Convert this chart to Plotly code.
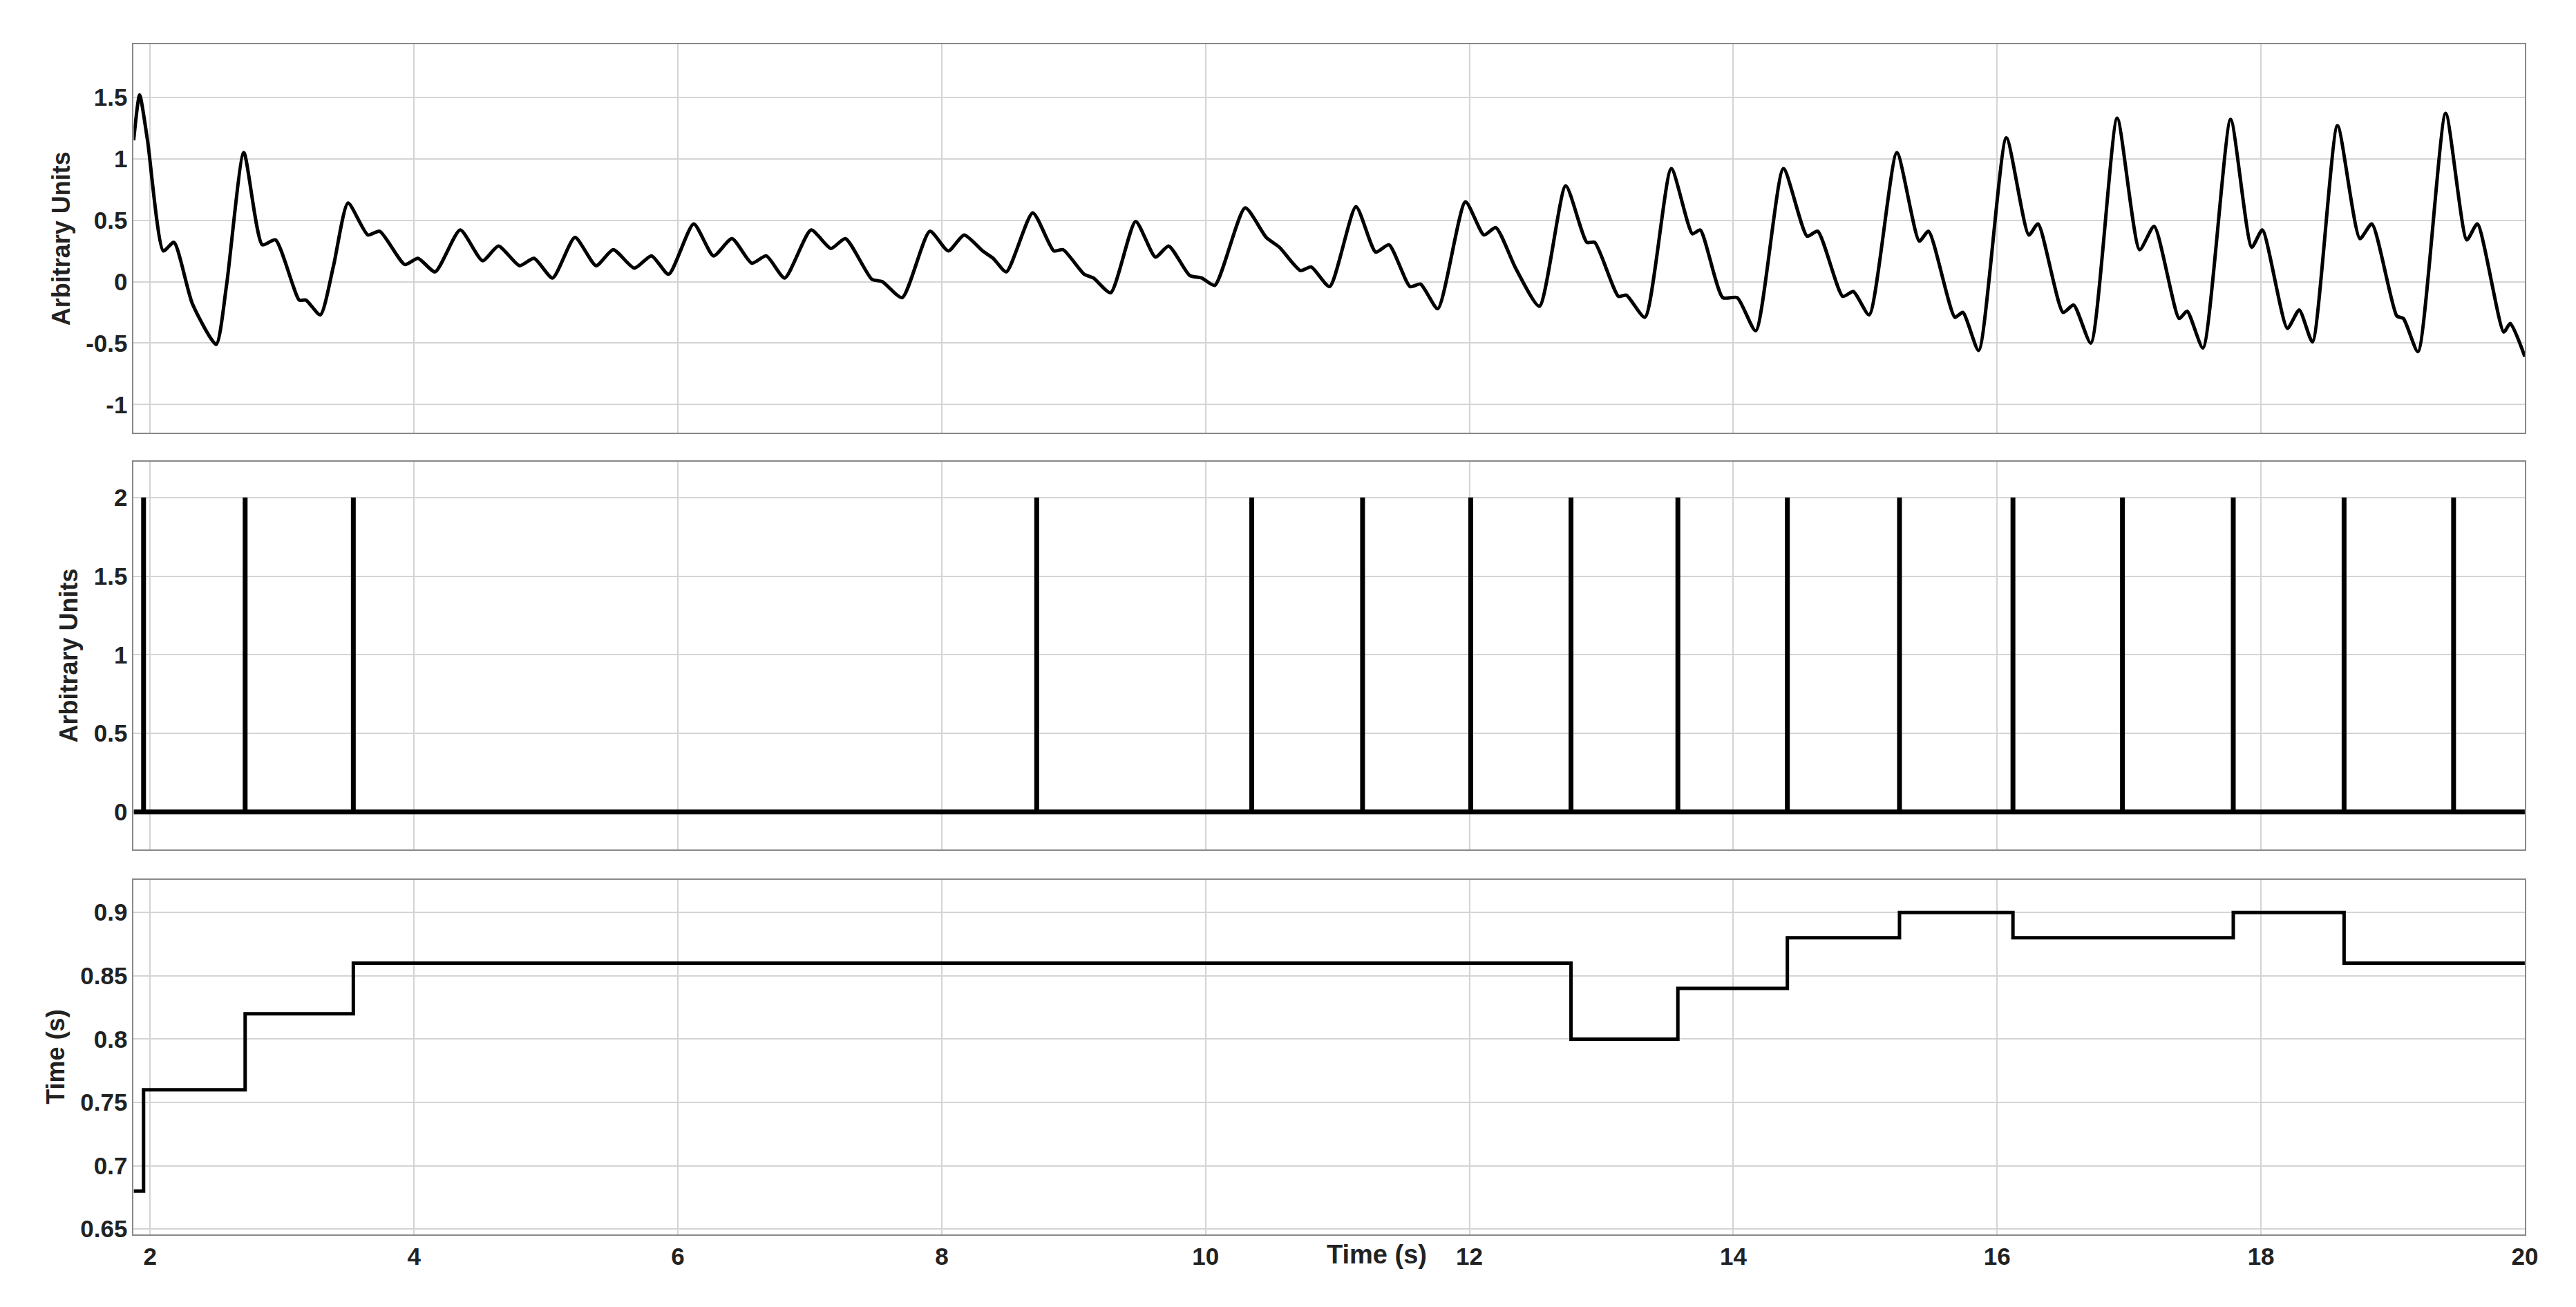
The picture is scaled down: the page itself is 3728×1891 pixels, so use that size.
import plotly.graph_objects as go
from plotly.subplots import make_subplots

sig_t = [1.875,1.92,1.98,2.10,2.18,2.32,2.50,2.58,2.71,2.85,2.95,3.13,3.18,3.29,3.39,3.50,3.65,3.74,3.93,4.03,4.16,4.35,4.52,4.64,4.80,4.91,5.05,5.22,5.38,5.51,5.67,5.80,5.93,6.12,6.27,6.41,6.56,6.67,6.81,7.01,7.16,7.27,7.47,7.55,7.70,7.91,8.05,8.17,8.31,8.39,8.49,8.69,8.85,8.92,9.08,9.15,9.28,9.47,9.62,9.72,9.88,9.97,10.07,10.30,10.46,10.56,10.72,10.80,10.94,11.14,11.29,11.39,11.55,11.63,11.76,11.97,12.11,12.20,12.35,12.53,12.73,12.89,12.95,13.13,13.19,13.33,13.53,13.69,13.75,13.92,14.03,14.17,14.38,14.56,14.64,14.83,14.91,15.03,15.24,15.41,15.48,15.68,15.74,15.86,16.07,16.24,16.31,16.50,16.58,16.71,16.91,17.08,17.19,17.38,17.44,17.56,17.77,17.93,18.01,18.20,18.29,18.39,18.58,18.75,18.84,19.03,19.08,19.19,19.40,19.56,19.64,19.84,19.89,20.0]
sig_v = [1.15,1.52,1.15,0.25,0.32,-0.18,-0.51,-0.02,1.05,0.30,0.34,-0.15,-0.15,-0.27,0.13,0.64,0.38,0.41,0.14,0.19,0.08,0.42,0.17,0.29,0.13,0.19,0.03,0.36,0.13,0.26,0.11,0.21,0.06,0.47,0.21,0.35,0.15,0.21,0.03,0.42,0.27,0.35,0.02,0.0,-0.13,0.41,0.25,0.38,0.25,0.19,0.08,0.56,0.25,0.26,0.06,0.03,-0.09,0.49,0.20,0.29,0.05,0.03,-0.03,0.60,0.36,0.28,0.09,0.12,-0.04,0.61,0.24,0.30,-0.04,-0.02,-0.22,0.65,0.38,0.44,0.11,-0.20,0.78,0.32,0.32,-0.12,-0.11,-0.29,0.92,0.39,0.42,-0.13,-0.13,-0.40,0.92,0.37,0.41,-0.12,-0.08,-0.27,1.05,0.33,0.41,-0.29,-0.25,-0.56,1.17,0.38,0.47,-0.25,-0.19,-0.50,1.33,0.26,0.45,-0.30,-0.24,-0.54,1.32,0.28,0.42,-0.38,-0.23,-0.49,1.27,0.35,0.47,-0.28,-0.30,-0.57,1.37,0.34,0.47,-0.41,-0.34,-0.61]

pulse_times = [1.95,2.72,3.54,8.72,10.35,11.19,12.01,12.77,13.58,14.41,15.26,16.12,16.95,17.79,18.63,19.46]
pulse_height = 2

step_t = [1.875,1.95,2.72,3.54,12.77,13.58,14.41,15.26,16.12,17.79,18.63,20.0]
step_v = [0.68,0.76,0.82,0.86,0.80,0.84,0.88,0.90,0.88,0.90,0.86,0.86]

fig = make_subplots(rows=3, cols=1, shared_xaxes=False, vertical_spacing=0.02)

fig.add_trace(go.Scatter(x=sig_t, y=sig_v, mode="lines", line=dict(color="black", width=5, shape="spline", smoothing=0.6)), row=1, col=1)

px, py = [1.875, 20.0, None], [0, 0, None]
for t in pulse_times:
    px += [t, t, None]
    py += [0, pulse_height, None]
fig.add_trace(go.Scatter(x=px, y=py, mode="lines", line=dict(color="black", width=7)), row=2, col=1)

fig.add_trace(go.Scatter(x=step_t, y=step_v, mode="lines", line=dict(color="black", width=5, shape="hv")), row=3, col=1)

font = dict(family="Liberation Sans", size=35, color="#222", weight="bold")
ax_common = dict(range=[1.875, 20], tickvals=[2,4,6,8,10,12,14,16,18,20], showgrid=True, gridcolor="#d4d4d4", gridwidth=2,
                 showline=True, linecolor="#888", linewidth=2, mirror=True, zeroline=False, tickfont=font, ticks="")
fig.update_layout(
    xaxis=dict(ax_common, domain=[0.05, 0.983], showticklabels=False),
    xaxis2=dict(ax_common, domain=[0.05, 0.983], showticklabels=False),
    xaxis3=dict(ax_common, domain=[0.05, 0.983], showticklabels=True),
)
yc = dict(showgrid=True, gridcolor="#d4d4d4", gridwidth=2, showline=True, linecolor="#888", linewidth=2, mirror=True,
          zeroline=False, tickfont=font, ticks="")
tfont = dict(family="Liberation Sans", size=36, color="#222", weight="bold")
fig.update_layout(
    yaxis=dict(yc, domain=[0.671, 0.970], range=[-1.23, 1.93], tickvals=[-1,-0.5,0,0.5,1,1.5], ticktext=["-1","-0.5","0","0.5","1","1.5"],
               title=dict(text="Arbitrary Units", font=tfont, standoff=12)),
    yaxis2=dict(yc, domain=[0.350, 0.649], range=[-0.24, 2.23], tickvals=[0,0.5,1,1.5,2], ticktext=["0","0.5","1","1.5","2"],
                title=dict(text="Arbitrary Units", font=tfont, standoff=12)),
    yaxis3=dict(yc, domain=[0.054, 0.327], range=[0.646, 0.926], tickvals=[0.65,0.7,0.75,0.8,0.85,0.9],
                title=dict(text="Time (s)", font=tfont, standoff=12)),
    showlegend=False, plot_bgcolor="white", paper_bgcolor="white",
    width=3728, height=1891, margin=dict(l=0, r=0, t=0, b=0),
    font=dict(family="Liberation Sans", color="#222"),
)
fig.add_annotation(text="Time (s)", xref="paper", yref="paper", x=0.535, y=0.054, yshift=-6, yanchor="top",
                   showarrow=False, font=dict(family="Liberation Sans", size=38, color="#222", weight="bold"))
fig.write_html("out.html")
